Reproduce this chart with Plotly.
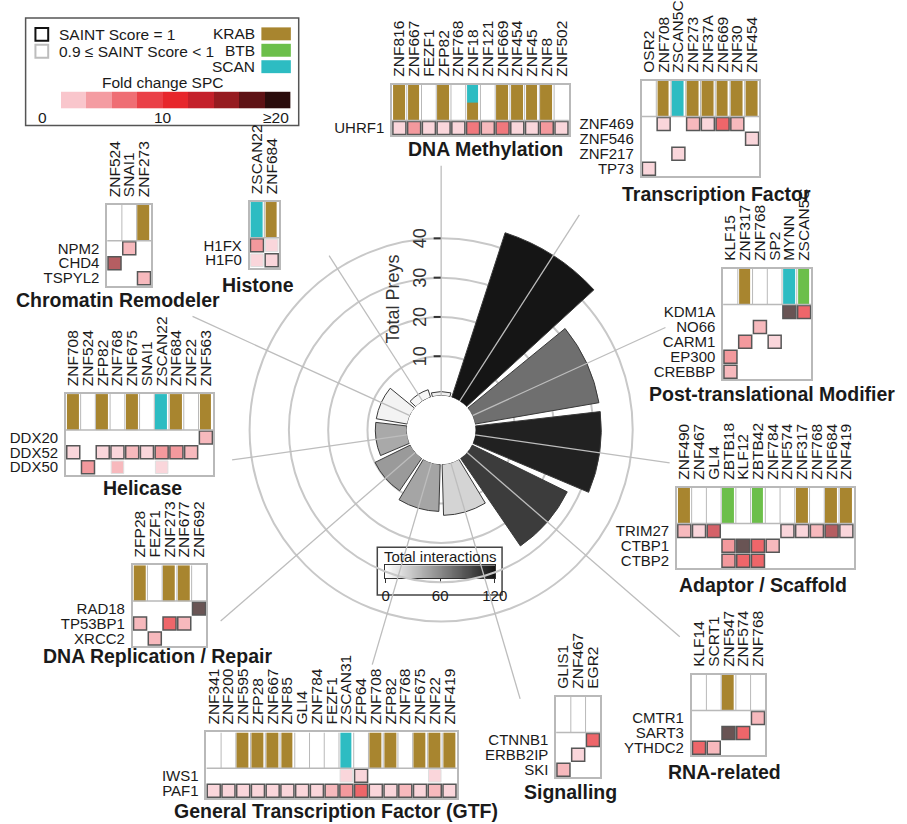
import plotly.graph_objects as go

W, H = 907, 824
FONT = "Arial, Liberation Sans, sans-serif"
INK = "#1a1a1a"
FRAME = "#b9b9b9"

# ---------------- centre rose: one wedge per functional class ----------------
classes = ["DNA Methylation", "Transcription Factor", "Post-translational Modifier",
           "Adaptor / Scaffold", "RNA-related", "Signalling",
           "General Transcription Factor (GTF)", "DNA Replication / Repair",
           "Helicase", "Chromatin Remodeler", "Histone"]
total_preys = [1, 44, 32, 32, 27, 13, 12, 10, 8, 8, 2]
total_interactions = [8, 124, 74, 114, 100, 22, 46, 52, 44, 6, 4]
radial_ticks = [10, 20, 30, 40]
interaction_ticks = [0, 60, 120]
interaction_levels = list(range(0, 121))

# ---------------- bait / prey tables for each class ----------------
# domain codes: K = KRAB, B = BTB, S = SCAN, - = none, SK = SCAN + KRAB
# fold change SPC per prey (rows) x bait (cols); 0 = not detected, 22 = ">=20"
# *_soft lists the (row, col) cells with 0.9 <= SAINT < 1, all others have SAINT = 1
dm_baits = ["ZNF816", "ZNF667", "FEZF1", "ZFP82", "ZNF768", "ZNF18", "ZNF121",
            "ZNF669", "ZNF454", "ZNF45", "ZNF8", "ZNF502"]
dm_domains = ["K", "K", "-", "K", "-", "SK", "-", "K", "K", "K", "K", "-"]
dm_preys = ["UHRF1"]
dm_fc = [[3, 7, 3, 3, 3, 9, 5, 9, 3, 3, 7, 3]]
dm_soft = []

tf_baits = ["OSR2", "ZNF708", "ZSCAN5C", "ZNF273", "ZNF37A", "ZNF669", "ZNF30", "ZNF454"]
tf_domains = ["-", "K", "S", "K", "K", "K", "K", "K"]
tf_preys = ["ZNF469", "ZNF546", "ZNF217", "TP73"]
tf_fc = [[0, 3, 0, 5, 3, 11, 5, 0],
         [0, 0, 0, 0, 0, 0, 0, 3],
         [0, 0, 3, 0, 0, 0, 0, 0],
         [3, 0, 0, 0, 0, 0, 0, 0]]
tf_soft = []

ptm_baits = ["KLF15", "ZNF317", "ZNF768", "SP2", "MYNN", "ZSCAN5C"]
ptm_domains = ["-", "K", "-", "-", "S", "B"]
ptm_preys = ["KDM1A", "NO66", "CARM1", "EP300", "CREBBP"]
ptm_fc = [[0, 0, 0, 0, 22, 11],
          [0, 0, 5, 0, 0, 0],
          [0, 7, 0, 3, 0, 0],
          [7, 0, 0, 0, 0, 0],
          [5, 0, 0, 0, 0, 0]]
ptm_soft = []

ad_baits = ["ZNF490", "ZNF467", "GLI4", "ZBTB18", "KLF12", "ZBTB42", "ZNF784",
            "ZNF574", "ZNF317", "ZNF768", "ZNF684", "ZNF419"]
ad_domains = ["K", "-", "-", "B", "-", "B", "-", "-", "K", "-", "K", "K"]
ad_preys = ["TRIM27", "CTBP1", "CTBP2"]
ad_fc = [[5, 3, 13, 0, 0, 0, 0, 3, 3, 5, 15, 3],
         [0, 0, 0, 7, 22, 11, 5, 0, 0, 0, 0, 0],
         [0, 0, 0, 7, 11, 11, 0, 0, 0, 0, 0, 0]]
ad_soft = []

rna_baits = ["KLF14", "SCRT1", "ZNF547", "ZNF574", "ZNF768"]
rna_domains = ["-", "-", "K", "-", "-"]
rna_preys = ["CMTR1", "SART3", "YTHDC2"]
rna_fc = [[0, 0, 0, 0, 5],
          [0, 0, 22, 11, 0],
          [11, 5, 0, 0, 0]]
rna_soft = []

sig_baits = ["GLIS1", "ZNF467", "EGR2"]
sig_domains = ["-", "-", "-"]
sig_preys = ["CTNNB1", "ERBB2IP", "SKI"]
sig_fc = [[0, 0, 11],
          [0, 3, 0],
          [5, 0, 0]]
sig_soft = []

gtf_baits = ["ZNF341", "ZNF200", "ZNF595", "ZFP28", "ZNF667", "ZNF85", "GLI4",
             "ZNF784", "FEZF1", "ZSCAN31", "ZFP64", "ZNF708", "ZFP82", "ZNF768",
             "ZNF675", "ZNF22", "ZNF419"]
gtf_domains = ["-", "-", "K", "K", "K", "K", "-", "-", "-", "S", "-", "K", "K",
               "-", "K", "K", "K"]
gtf_preys = ["IWS1", "PAF1"]
gtf_fc = [[0, 0, 0, 0, 0, 0, 0, 0, 0, 3, 3, 0, 0, 0, 0, 3, 0],
          [3, 3, 3, 3, 3, 3, 3, 3, 5, 7, 11, 3, 3, 5, 3, 5, 3]]
gtf_soft = [(0, 9), (0, 15)]

rep_baits = ["ZFP28", "FEZF1", "ZNF273", "ZNF677", "ZNF692"]
rep_domains = ["K", "-", "K", "K", "-"]
rep_preys = ["RAD18", "TP53BP1", "XRCC2"]
rep_fc = [[0, 0, 0, 0, 22],
          [5, 0, 11, 5, 0],
          [0, 5, 0, 0, 0]]
rep_soft = []

hel_baits = ["ZNF708", "ZNF524", "ZFP82", "ZNF768", "ZNF675", "SNAI1", "ZSCAN22",
             "ZNF684", "ZNF22", "ZNF563"]
hel_domains = ["K", "-", "K", "-", "K", "-", "S", "K", "-", "K"]
hel_preys = ["DDX20", "DDX52", "DDX50"]
hel_fc = [[0, 0, 0, 0, 0, 0, 0, 0, 0, 5],
          [3, 0, 3, 3, 5, 3, 7, 7, 5, 0],
          [0, 7, 0, 5, 0, 0, 3, 0, 0, 0]]
hel_soft = [(2, 3), (2, 6)]

chr_baits = ["ZNF524", "SNAI1", "ZNF273"]
chr_domains = ["-", "-", "K"]
chr_preys = ["NPM2", "CHD4", "TSPYL2"]
chr_fc = [[0, 5, 0],
          [15, 0, 0],
          [0, 0, 5]]
chr_soft = []

his_baits = ["ZSCAN22", "ZNF684"]
his_domains = ["S", "K"]
his_preys = ["H1FX", "H1F0"]
his_fc = [[7, 3],
          [3, 3]]
his_soft = [(0, 1), (1, 0)]

fold_bins = [1, 3, 5, 7, 9, 11, 13, 15, 17, 19]

# ---------------- styling ----------------
fold_colors = ["#ffffff", "#f9c6cc", "#f49ca2", "#ef6e74", "#ea4047",
               "#e7262c", "#c4202a", "#961b20", "#5e1215", "#2a0c0c"]
grey_scale = [[0, "#ffffff"], [1, "#151515"]]
DOMAIN_COLORS = {"KRAB": "#a8852f", "BTB": "#6cbf4a", "SCAN": "#2dbcc2"}
domain_code = {"-": 0, "K": 1, "B": 2, "S": 3}


def stepped(colors):
    n = len(colors)
    cs = []
    for i, c in enumerate(colors):
        cs.append([i / n, c])
        cs.append([(i + 1) / n, c])
    return cs


fold_scale = stepped(fold_colors)
domain_scale = stepped(["#ffffff", DOMAIN_COLORS["KRAB"], DOMAIN_COLORS["BTB"],
                        DOMAIN_COLORS["SCAN"]])

# placement (px): grid left, top of domain strip, title centre x / y
CELL = 15
STRIP = 2.4  # domain strip height in cell units
panel_px = {
    "DNA Methylation": (395, 82, 490, 147),
    "Transcription Factor": (649, 78, 725, 192),
    "Post-translational Modifier": (732, 267, 782, 393),
    "Adaptor / Scaffold": (685, 487, 773, 585),
    "RNA-related": (700, 675, 733, 773),
    "Signalling": (562, 697, 577, 793),
    "General Transcription Factor (GTF)": (206, 733, 338, 812),
    "DNA Replication / Repair": (131, 565, 156, 656),
    "Helicase": (63, 393, 141, 487),
    "Chromatin Remodeler": (105, 203, 116, 298),
    "Histone": (250, 200, 259, 283),
}
# radial reach of each leader line, in radial-axis units
connector_len = [58.5, 56.3, 54, 50, 71.6, 62.6, 53.5, 65.5, 45, 60.8, 44]

panel_tables = [
    (classes[0], dm_baits, dm_domains, dm_preys, dm_fc, dm_soft),
    (classes[1], tf_baits, tf_domains, tf_preys, tf_fc, tf_soft),
    (classes[2], ptm_baits, ptm_domains, ptm_preys, ptm_fc, ptm_soft),
    (classes[3], ad_baits, ad_domains, ad_preys, ad_fc, ad_soft),
    (classes[4], rna_baits, rna_domains, rna_preys, rna_fc, rna_soft),
    (classes[5], sig_baits, sig_domains, sig_preys, sig_fc, sig_soft),
    (classes[6], gtf_baits, gtf_domains, gtf_preys, gtf_fc, gtf_soft),
    (classes[7], rep_baits, rep_domains, rep_preys, rep_fc, rep_soft),
    (classes[8], hel_baits, hel_domains, hel_preys, hel_fc, hel_soft),
    (classes[9], chr_baits, chr_domains, chr_preys, chr_fc, chr_soft),
    (classes[10], his_baits, his_domains, his_preys, his_fc, his_soft),
]


def px_x(x):
    return x / W


def px_y(y):
    return 1 - y / H


fig = go.Figure()
layout = {}
shapes = []
annotations = []

# ---------------- polar rose ----------------
CX, CY = 445, 429
HOLE_PX, PX_PER_UNIT, R_MAX = 35, 4.0, 72
R_OUT = HOLE_PX + PX_PER_UNIT * R_MAX
angles = [i * 360 / len(classes) for i in range(len(classes))]

r_conn, t_conn = [], []
for a, length in zip(angles, connector_len):
    r_conn += [0, length, None]
    t_conn += [a, a, None]
fig.add_trace(go.Scatterpolar(r=r_conn, theta=t_conn, mode="lines",
                              line=dict(color="#bdbdbd", width=1.3),
                              connectgaps=False, hoverinfo="skip", showlegend=False))

fig.add_trace(go.Barpolar(
    r=total_preys, theta=angles, width=29.5, showlegend=False,
    text=classes, hovertemplate="%{text}<br>Total preys: %{r}<extra></extra>",
    marker=dict(color=total_interactions, cmin=0, cmax=120, colorscale=grey_scale,
                line=dict(color="#3a3a3a", width=1), showscale=False),
))

layout["polar"] = dict(
    domain=dict(x=[px_x(CX - R_OUT), px_x(CX + R_OUT)],
                y=[px_y(CY + R_OUT), px_y(CY - R_OUT)]),
    hole=HOLE_PX / R_OUT,
    bgcolor="rgba(0,0,0,0)",
    angularaxis=dict(rotation=90, direction="clockwise", showline=False,
                     showgrid=False, showticklabels=False, ticks=""),
    radialaxis=dict(range=[0, R_MAX], angle=90, side="counterclockwise",
                    tickvals=radial_ticks, ticks="outside", ticklen=7,
                    tickwidth=1.5, tickcolor="#333",
                    tickfont=dict(size=18, color="#333"),
                    showline=False, showgrid=True, gridcolor="#c8c8c8",
                    gridwidth=1.5),
)
annotations.append(dict(text="Total Preys", x=px_x(396), y=px_y(298), xref="paper",
                        yref="paper", textangle=-90, showarrow=False,
                        font=dict(size=18, color="#333")))

# ---------------- heatmap panels ----------------
for k, (name, baits, domains, preys, fc, soft) in enumerate(panel_tables, start=1):
    left, top, tx, ty = panel_px[name]
    n, m = len(baits), len(preys)
    xid = "x" if k == 1 else f"x{k}"
    yid = "y" if k == 1 else f"y{k}"
    xkey = "xaxis" if k == 1 else f"xaxis{k}"
    ykey = "yaxis" if k == 1 else f"yaxis{k}"

    # domain strip: two stacked rows so split domains can show both families
    bottom_row = [domain_code[d[-1]] for d in domains]
    top_row = [domain_code[d[0]] for d in domains]
    fig.add_trace(go.Heatmap(z=[bottom_row, top_row], x0=0, dx=1, y0=STRIP / 4,
                             dy=STRIP / 2, zmin=-0.5, zmax=3.5,
                             colorscale=domain_scale, showscale=False, xgap=3,
                             hoverinfo="skip", xaxis=xid, yaxis=yid))

    xs, ys, vals, sizes, lws, lcs, tips = [], [], [], [], [], [], []
    for i in range(m):
        for j in range(n):
            v = fc[i][j]
            if not v:
                continue
            is_soft = (i, j) in soft
            xs.append(j)
            ys.append(-(i + 0.5))
            vals.append(v)
            sizes.append(12.5 if is_soft else 13)
            lws.append(1 if is_soft else 1.5)
            lcs.append("#d2d2d2" if is_soft else "#111111")
            tips.append(f"{preys[i]} / {baits[j]}")
    fig.add_trace(go.Scatter(
        x=xs, y=ys, mode="markers", xaxis=xid, yaxis=yid, cliponaxis=False,
        text=tips, hovertemplate="%{text}<br>FC: %{marker.color}<extra></extra>",
        marker=dict(symbol="square", size=sizes, color=vals, colorscale=fold_scale,
                    cmin=0, cmax=20, showscale=False,
                    line=dict(width=lws, color=lcs)),
        showlegend=False))

    layout[xkey] = dict(
        domain=[px_x(left), px_x(left + CELL * n)], anchor=yid,
        range=[-0.5, n - 0.5], side="top", tickmode="array",
        tickvals=list(range(n)), ticktext=baits, tickangle=-90, ticks="",
        ticklabelstandoff=3, tickfont=dict(size=15.5, color=INK),
        showgrid=False, zeroline=False, showline=True, mirror=True,
        linecolor=FRAME, linewidth=1.5, fixedrange=True)
    layout[ykey] = dict(
        domain=[px_y(top + CELL * (STRIP + m)), px_y(top)], anchor=xid,
        range=[-m, STRIP], tickmode="array",
        tickvals=[-(i + 0.5) for i in range(m)], ticktext=preys, ticks="",
        ticklabelstandoff=3, tickfont=dict(size=15, color=INK),
        showgrid=False, zeroline=False, showline=True, mirror=True,
        linecolor=FRAME, linewidth=1.5, fixedrange=True)

    for j in range(1, n):
        shapes.append(dict(type="line", xref=xid, yref=yid, x0=j - 0.5, x1=j - 0.5,
                           y0=0, y1=STRIP, line=dict(color=FRAME, width=1)))
    shapes.append(dict(type="line", xref=xid, yref=yid, x0=-0.5, x1=n - 0.5,
                       y0=0, y1=0, line=dict(color=FRAME, width=1.5)))

    annotations.append(dict(text=f"<b>{name}</b>", x=px_x(tx), y=px_y(ty),
                            xref="paper", yref="paper", showarrow=False,
                            xanchor="center", yanchor="middle",
                            font=dict(size=19.5, color=INK)))

# ---------------- key: SAINT / domains / fold change ----------------
shapes.append(dict(type="rect", xref="paper", yref="paper", x0=px_x(22), x1=px_x(300),
                   y0=px_y(123), y1=px_y(15), line=dict(color="#555", width=1.5),
                   fillcolor="white", layer="below"))
shapes.append(dict(type="rect", xref="paper", yref="paper", x0=px_x(32), x1=px_x(45),
                   y0=px_y(38), y1=px_y(25), line=dict(color="#111", width=2)))
shapes.append(dict(type="rect", xref="paper", yref="paper", x0=px_x(32), x1=px_x(45),
                   y0=px_y(55), y1=px_y(42), line=dict(color="#bdbdbd", width=2)))
for txt, yy in [("SAINT Score = 1", 31.5), ("0.9 \u2264 SAINT Score < 1", 48.5)]:
    annotations.append(dict(text=txt, x=px_x(54), y=px_y(yy), xref="paper",
                            yref="paper", xanchor="left", yanchor="middle",
                            showarrow=False, font=dict(size=15.5, color=INK)))
for (label, color), yy in zip(DOMAIN_COLORS.items(), [31, 47.5, 64]):
    annotations.append(dict(text=label, x=px_x(258), y=px_y(yy), xref="paper",
                            yref="paper", xanchor="right", yanchor="middle",
                            showarrow=False, font=dict(size=15.5, color=INK)))
    shapes.append(dict(type="rect", xref="paper", yref="paper", x0=px_x(262),
                       x1=px_x(292), y0=px_y(yy + 6.5), y1=px_y(yy - 6.5),
                       fillcolor=color, line=dict(width=0)))
annotations.append(dict(text="Fold change SPC", x=px_x(162), y=px_y(80), xref="paper",
                        yref="paper", xanchor="center", yanchor="middle",
                        showarrow=False, font=dict(size=15.5, color=INK)))

kx = len(panel_tables) + 1
fig.add_trace(go.Heatmap(z=[fold_bins], x0=0, dx=1, y0=0, dy=1, zmin=0, zmax=20,
                         colorscale=fold_scale, showscale=False, hoverinfo="skip",
                         xaxis=f"x{kx}", yaxis=f"y{kx}"))
layout[f"xaxis{kx}"] = dict(domain=[px_x(32), px_x(292)], anchor=f"y{kx}",
                            range=[-0.5, len(fold_bins) - 0.5], visible=False,
                            fixedrange=True)
layout[f"yaxis{kx}"] = dict(domain=[px_y(106), px_y(89)], anchor=f"x{kx}",
                            range=[-0.5, 0.5], visible=False, fixedrange=True)
for txt, xx, anchor in [("0", 33, "left"), ("10", 162, "center"),
                        ("\u226520", 292, "right")]:
    annotations.append(dict(text=txt, x=px_x(xx), y=px_y(115), xref="paper",
                            yref="paper", xanchor=anchor, yanchor="middle",
                            showarrow=False, font=dict(size=15.5, color=INK)))

# ---------------- key: total interactions gradient ----------------
kg = kx + 1
fig.add_trace(go.Heatmap(z=[interaction_levels], x=interaction_levels, y=[0],
                         zmin=0, zmax=120, colorscale=grey_scale, showscale=False,
                         hoverinfo="skip", xaxis=f"x{kg}", yaxis=f"y{kg}"))
layout[f"xaxis{kg}"] = dict(
    domain=[px_x(388), px_x(500)], anchor=f"y{kg}",
    range=[interaction_levels[0] - 0.5, interaction_levels[-1] + 0.5],
    tickmode="array", tickvals=interaction_ticks, ticks="outside", ticklen=4,
    tickcolor="#333", tickfont=dict(size=15, color=INK), ticklabelstandoff=0,
    showline=True, mirror=True, linecolor="#333", linewidth=1,
    showgrid=False, zeroline=False, fixedrange=True)
layout[f"yaxis{kg}"] = dict(
    domain=[px_y(578), px_y(565)], anchor=f"x{kg}", range=[-0.5, 0.5],
    showticklabels=False, ticks="", showline=True, mirror=True, linecolor="#333",
    linewidth=1, showgrid=False, zeroline=False, fixedrange=True)
shapes.append(dict(type="rect", xref="paper", yref="paper", x0=px_x(380), x1=px_x(507),
                   y0=px_y(595), y1=px_y(547), line=dict(color="#444", width=1.5),
                   fillcolor="white", layer="below"))
annotations.append(dict(text="Total interactions", x=px_x(444), y=px_y(556),
                        xref="paper", yref="paper", xanchor="center",
                        yanchor="middle", showarrow=False,
                        font=dict(size=15, color=INK)))

fig.update_layout(
    width=W, height=H, margin=dict(l=0, r=0, t=0, b=0),
    paper_bgcolor="white", plot_bgcolor="white",
    font=dict(family=FONT, color=INK),
    shapes=shapes, annotations=annotations, showlegend=False,
    **layout,
)

fig.write_html("out.html")
